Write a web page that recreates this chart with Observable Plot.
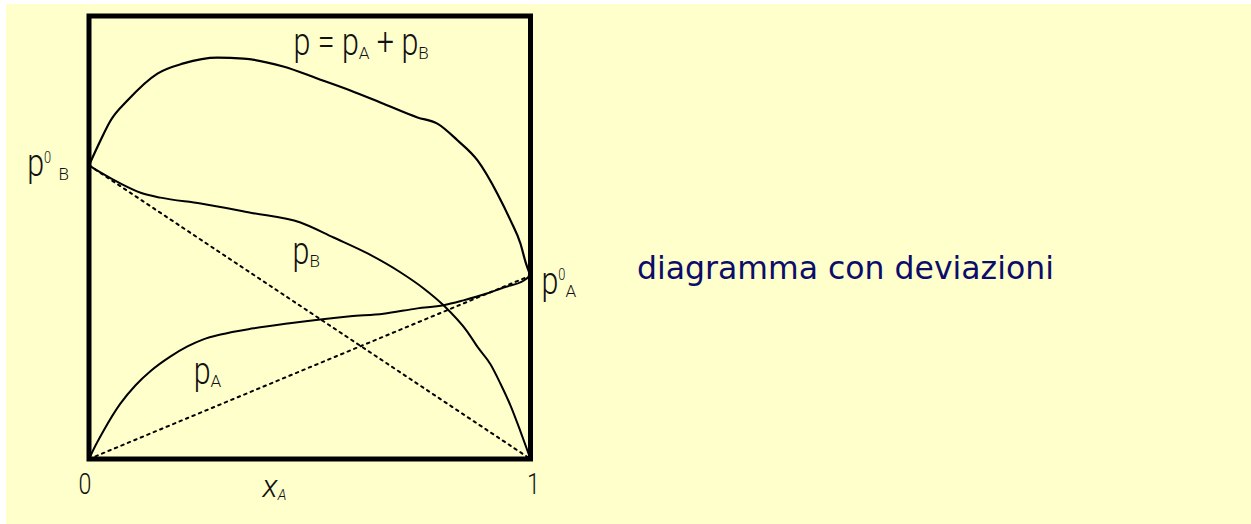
<!DOCTYPE html>
<html>
<head>
<meta charset="utf-8">
<script src="https://cdn.jsdelivr.net/npm/d3@7"></script>
<script src="https://cdn.jsdelivr.net/npm/@observablehq/plot@0.6"></script>
<style>
  html, body { margin: 0; padding: 0; background: #ffffff; }
  #sheet { position: absolute; left: 6px; top: 4px; width: 1245px; height: 520px; background: #ffffcc; overflow: hidden; }
  #chart { position: absolute; left: 0; top: 0; }
  #caption {
    position: absolute; left: 631px; top: 249px;
    font-family: Verdana, "DejaVu Sans", sans-serif; font-size: 31.5px; line-height: 31px;
    color: #0c0c6a; white-space: nowrap;
  }
</style>
</head>
<body>
<div id="sheet">
  <div id="chart"></div>
  <div id="caption">diagramma con deviazioni</div>
</div>
<script>
// Mole fraction of A and (relative) vapour pressures for a mixture with positive deviations.
const xTotal = [0, 0.026, 0.049, 0.087, 0.155, 0.214, 0.291, 0.350, 0.440, 0.517, 0.592, 0.667, 0.744, 0.789, 0.835, 0.880, 0.925, 0.955, 0.977, 0.989, 1];
const pTotal = [0.663, 0.719, 0.764, 0.809, 0.870, 0.893, 0.906, 0.904, 0.886, 0.859, 0.832, 0.802, 0.771, 0.757, 0.719, 0.674, 0.599, 0.538, 0.487, 0.444, 0.414];

const xB = [0, 0.026, 0.071, 0.117, 0.162, 0.253, 0.366, 0.479, 0.554, 0.631, 0.706, 0.758, 0.803, 0.858, 0.880, 0.910, 0.932, 0.955, 0.977, 1];
const pB = [0.663, 0.647, 0.622, 0.601, 0.590, 0.577, 0.556, 0.534, 0.500, 0.464, 0.421, 0.385, 0.347, 0.286, 0.253, 0.213, 0.170, 0.120, 0.063, 0];

const xA = [0, 0.015, 0.033, 0.071, 0.105, 0.139, 0.184, 0.223, 0.259, 0.298, 0.373, 0.450, 0.524, 0.592, 0.667, 0.744, 0.803, 0.848, 0.903, 0.939, 0.985, 1];
const pA = [0, 0.031, 0.064, 0.125, 0.166, 0.198, 0.231, 0.254, 0.270, 0.281, 0.295, 0.306, 0.315, 0.322, 0.328, 0.340, 0.347, 0.358, 0.374, 0.387, 0.403, 0.414];

// Pure-component vapour pressures (ends of the curves)
const p0B = pB[0];
const p0A = pA[pA.length - 1];

// Ideal (Raoult) lines between the pure-component pressures
const raoultB = [[0, p0B], [1, 0]];
const raoultA = [[0, 0], [1, p0A]];

const tickLabels = ["0", "1"];

// Curve labels: "_X" is a subscript, "^X" a superscript
const curveLabels = ["p = p_A + p_B", "p_B", "p_A"];
const curveLabelX = [0.463, 0.461, 0.237];
const curveLabelY = [0.911, 0.441, 0.170];
const axisLabel = "x_A";
const axisLabelX = 0.393;
const pureLabelB = "p^0 _B";
const pureLabelA = "p^0_A";

const series = (xs, ys) => xs.map((x, i) => ({x, p: ys[i]}));
const labelData = curveLabels.map((t, i) => ({t, x: curveLabelX[i], y: curveLabelY[i]}));

const font = "Roboto, 'Liberation Sans', Arial, sans-serif";
const ink = "#111";
const narrow = 0.8;

const chart = Plot.plot({
  width: 600,
  height: 520,
  marginLeft: 82.5,
  marginRight: 76,
  marginTop: 11.5,
  marginBottom: 65.5,
  x: {domain: [0, 1], axis: null},
  y: {domain: [0, 1], axis: null},
  style: {background: "transparent", fontFamily: font, fontWeight: 300, overflow: "visible"},
  marks: [
    Plot.line(raoultB, {x: d => d[0], y: d => d[1], stroke: "black", strokeWidth: 2, strokeDasharray: "2.5,4.5"}),
    Plot.line(raoultA, {x: d => d[0], y: d => d[1], stroke: "black", strokeWidth: 2, strokeDasharray: "2.5,4.5"}),
    Plot.line(series(xTotal, pTotal), {x: "x", y: "p", stroke: "black", strokeWidth: 2.2, curve: "monotone-x"}),
    Plot.line(series(xB, pB), {x: "x", y: "p", stroke: "black", strokeWidth: 2, curve: "monotone-x"}),
    Plot.line(series(xA, pA), {x: "x", y: "p", stroke: "black", strokeWidth: 2, curve: "monotone-x"}),
    Plot.frame({stroke: "black", strokeWidth: 5}),
    Plot.text(labelData, {x: "x", y: "y", text: "t", textAnchor: "start", lineAnchor: "bottom", fontSize: 38, fill: ink}),
    Plot.text([pureLabelB], {x: [0], y: [p0B], text: d => d, textAnchor: "end", lineAnchor: "bottom", dx: -20, dy: 11, fontSize: 38, fill: ink}),
    Plot.text([pureLabelA], {x: [1], y: [p0A], text: d => d, textAnchor: "start", lineAnchor: "bottom", dx: 11, dy: 18, fontSize: 38, fill: ink}),
    Plot.text([tickLabels[0]], {x: [0], y: [0], text: d => d, textAnchor: "middle", lineAnchor: "bottom", dx: -4, dy: 35, fontSize: 29, fill: ink}),
    Plot.text([tickLabels[1]], {x: [1], y: [0], text: d => d, textAnchor: "middle", lineAnchor: "bottom", dx: 3, dy: 35, fontSize: 29, fill: ink}),
    Plot.text([axisLabel], {x: [axisLabelX], y: [0], text: d => d, textAnchor: "start", lineAnchor: "bottom", dy: 38, fontSize: 32, fontStyle: "italic", fill: ink})
  ]
});

document.getElementById("chart").appendChild(chart);

// Turn "_X" / "^X" markers into sub/superscript tspans; the main lettering is narrowed,
// while subscripts keep their normal width.
const svgNS = "http://www.w3.org/2000/svg";
function richText(el, size, squeeze) {
  const s = el.textContent;
  if (!/[_^]/.test(s)) return;
  el.textContent = "";
  let shift = 0;
  for (const m of s.matchAll(/([_^])(.)|([^_^]+)/g)) {
    const span = document.createElementNS(svgNS, "tspan");
    let target = 0;
    if (m[3]) {
      span.textContent = m[3];
    } else {
      span.textContent = m[2];
      target = m[1] === "^" ? -0.36 * size : 0.09 * size;
      span.setAttribute("font-size", m[1] === "^" ? 0.42 * size : 0.45 * size);
    }
    if (target !== shift) span.setAttribute("dy", target - shift);
    shift = target;
    el.appendChild(span);
    if (m[1] === "_" && squeeze !== 1) {
      const len = span.getComputedTextLength();
      span.setAttribute("textLength", len / squeeze);
      span.setAttribute("lengthAdjust", "spacingAndGlyphs");
    }
  }
}
chart.querySelectorAll("text").forEach(el => {
  const content = el.textContent;
  const size = parseFloat(el.closest("[font-size]")?.getAttribute("font-size")) || 38;
  const squeeze = content === axisLabel ? 1 : narrow;
  richText(el, size, squeeze);
  if (squeeze !== 1) {
    const tr = el.getAttribute("transform") || "";
    el.setAttribute("transform", `${tr} scale(${squeeze},1)`);
  }
});
</script>
</body>
</html>
